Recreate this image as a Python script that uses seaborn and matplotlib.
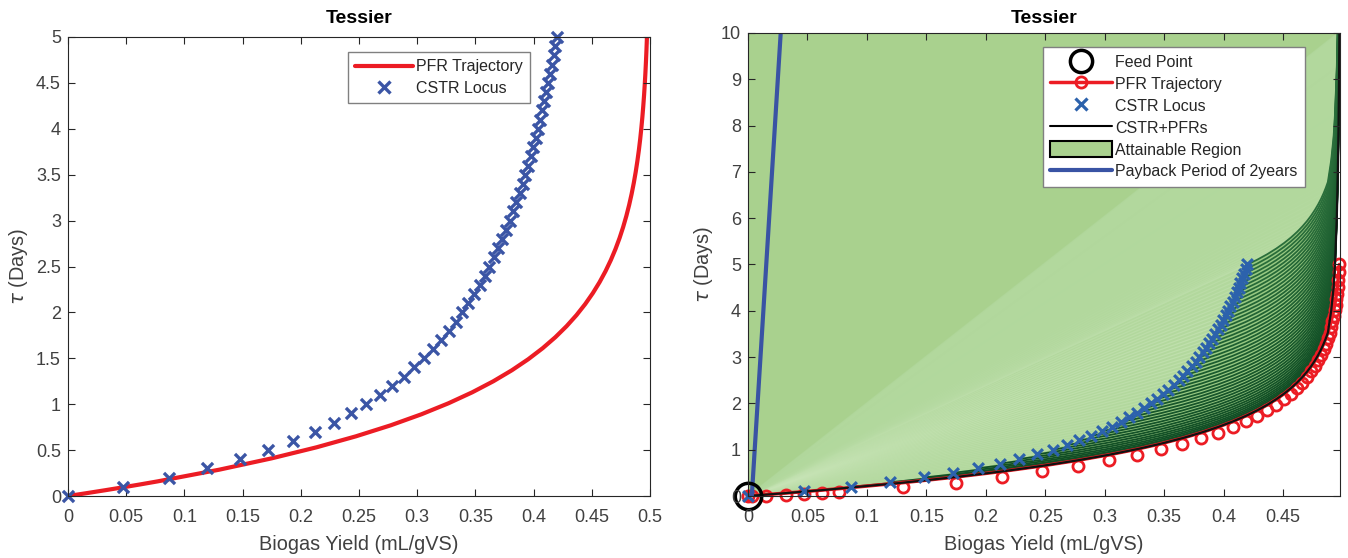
import numpy as np
import pandas as pd
import matplotlib
matplotlib.use('Agg')
import matplotlib.pyplot as plt
from matplotlib.lines import Line2D
from matplotlib.patches import Patch
from matplotlib.colors import LinearSegmentedColormap
import seaborn as sns

# CSTR locus (residence time in days, biogas yield mL/gVS)
cstr_tau = [0.0, 0.1, 0.2, 0.3, 0.4, 0.5, 0.6, 0.7, 0.8, 0.9,
            1.0, 1.1, 1.2, 1.3, 1.4, 1.5, 1.6, 1.7, 1.8, 1.9,
            2.0, 2.1, 2.2, 2.3, 2.4, 2.5, 2.6, 2.7, 2.8, 2.9,
            3.0, 3.1, 3.2, 3.3, 3.4, 3.5, 3.6, 3.7, 3.8, 3.9,
            4.0, 4.1, 4.2, 4.3, 4.4, 4.5, 4.6, 4.7, 4.8, 4.9, 5.0]
cstr_yield = [0.0, 0.0475, 0.0868, 0.1198, 0.1479, 0.1721, 0.1933, 0.2118, 0.2283, 0.2429,
              0.2561, 0.2680, 0.2788, 0.2886, 0.2976, 0.3058, 0.3134, 0.3205, 0.3270, 0.3331,
              0.3387, 0.3440, 0.3489, 0.3536, 0.3580, 0.3621, 0.3660, 0.3696, 0.3731, 0.3764,
              0.3795, 0.3825, 0.3853, 0.3880, 0.3906, 0.3930, 0.3954, 0.3976, 0.3998, 0.4019,
              0.4038, 0.4057, 0.4076, 0.4093, 0.4110, 0.4127, 0.4142, 0.4157, 0.4172, 0.4186, 0.4200]

# PFR trajectory (solver output points)
pfr_tau = [0.0, 0.006, 0.03, 0.063, 0.094, 0.126, 0.159, 0.287, 0.41, 0.53,
           0.65, 0.77, 0.89, 1.01, 1.13, 1.25, 1.37, 1.49, 1.61, 1.73,
           1.85, 1.97, 2.09, 2.21, 2.33, 2.45, 2.57, 2.69, 2.81, 2.93,
           3.05, 3.17, 3.29, 3.41, 3.53, 3.65, 3.77, 3.89, 4.01, 4.13,
           4.25, 4.37, 4.49, 4.61, 4.73, 4.85, 5.0]
pfr_yield = [0.0, 0.00314, 0.01551, 0.03200, 0.04699, 0.06196, 0.07688, 0.13008, 0.17491, 0.21340,
             0.24733, 0.27724, 0.30360, 0.32686, 0.34736, 0.36543, 0.38137, 0.39541, 0.40779, 0.41871,
             0.42833, 0.43682, 0.44430, 0.45089, 0.45671, 0.46183, 0.46635, 0.47034, 0.47385, 0.47694,
             0.47967, 0.48208, 0.48420, 0.48607, 0.48772, 0.48917, 0.49046, 0.49159, 0.49258, 0.49346,
             0.49423, 0.49492, 0.49552, 0.49605, 0.49652, 0.49693, 0.49738]

# PFR markers as they sit in the attainable-region panel
pfr_ar_tau = [0.0, 0.0, 0.01, 0.03, 0.05, 0.07, 0.09, 0.19, 0.29, 0.41,
              0.53, 0.65, 0.77, 0.89, 1.01, 1.13, 1.25, 1.37, 1.49, 1.61,
              1.73, 1.85, 1.97, 2.09, 2.21, 2.33, 2.45, 2.57, 2.69, 2.81,
              2.93, 3.05, 3.17, 3.29, 3.41, 3.53, 3.65, 3.77, 3.89, 4.01,
              4.13, 4.25, 4.37, 4.52, 4.67, 4.83, 5.0]

# CSTR+PFRs lower boundary (feed point -> right edge, up to 10 days)
bnd_yield = [0.0, 0.03200, 0.06196, 0.13008, 0.17491, 0.21340, 0.24733, 0.27724, 0.30360,
             0.32686, 0.34736, 0.36543, 0.38137, 0.39541, 0.40779, 0.41871, 0.42833, 0.43682,
             0.44430, 0.45089, 0.45671, 0.46183, 0.46635, 0.47034, 0.47385, 0.47694, 0.47967,
             0.48208, 0.48420, 0.48607, 0.48772, 0.4905, 0.4925, 0.4937, 0.4952, 0.4961,
             0.4967, 0.4971, 0.4974]
bnd_tau = [0.0, 0.063, 0.126, 0.287, 0.41, 0.53, 0.65, 0.77, 0.89,
           1.01, 1.13, 1.25, 1.37, 1.49, 1.61, 1.73, 1.85, 1.97,
           2.09, 2.21, 2.33, 2.45, 2.57, 2.69, 2.81, 2.93, 3.05,
           3.17, 3.29, 3.41, 3.53, 4.0, 4.5, 5.0, 6.0, 7.0,
           8.0, 9.0, 10.0]

feed_yield = [0.0]
feed_tau = [0.0]

payback_yield = [0.0032, 0.0275]
payback_tau = [0.0, 10.0]

red = '#ec1c24'
blue = '#3b55a5'
blue2 = '#2c62ac'
green = '#a9d18e'
txt = '#404040'

sns.set_theme(style='ticks')
plt.rcParams['font.family'] = ['Liberation Sans', 'DejaVu Sans']
plt.rcParams['mathtext.fontset'] = 'dejavusans'

fig = plt.figure(figsize=(13.48, 5.58), dpi=100)
ax1 = fig.add_axes([0.0504, 0.1111, 0.4318, 0.8226])
ax2 = fig.add_axes([0.5549, 0.1111, 0.4389, 0.8298])

df_pfr = pd.DataFrame({'yield': pfr_yield, 'tau': pfr_tau})
df_cstr = pd.DataFrame({'yield': cstr_yield, 'tau': cstr_tau})

# ---- left panel
sns.lineplot(data=df_pfr, x='yield', y='tau', ax=ax1, color=red, lw=3, sort=False, zorder=2)
sns.scatterplot(data=df_cstr, x='yield', y='tau', ax=ax1, marker='x', color=blue,
                s=64, linewidth=2.4, zorder=3, clip_on=False)
ax1.set_xlim(0, 0.5)
ax1.set_ylim(0, 5)
ax1.set_xticks([0, 0.05, 0.1, 0.15, 0.2, 0.25, 0.3, 0.35, 0.4, 0.45, 0.5])
ax1.set_xticklabels(['0', '0.05', '0.1', '0.15', '0.2', '0.25', '0.3', '0.35', '0.4', '0.45', '0.5'])
ax1.set_yticks([0, 0.5, 1, 1.5, 2, 2.5, 3, 3.5, 4, 4.5, 5])
ax1.set_yticklabels(['0', '0.5', '1', '1.5', '2', '2.5', '3', '3.5', '4', '4.5', '5'])
h1 = [Line2D([], [], color=red, lw=3),
      Line2D([], [], color=blue, marker='x', ls='none', ms=8, mew=2.4)]
leg1 = ax1.legend(h1, ['PFR Trajectory', 'CSTR Locus'], loc='upper left',
                  bbox_to_anchor=(0.481, 0.967), borderaxespad=0, fontsize=11.5,
                  handlelength=3.6, labelspacing=0.4, fancybox=False, framealpha=1,
                  edgecolor='#808080', borderpad=0.45, handletextpad=0.2)
leg1.get_frame().set_linewidth(1.0)

# ---- right panel
low_x = np.array(bnd_yield)
low_t = np.array(bnd_tau)


def cstr_pfr(x0, t0):
    # PFR fed by a CSTR: the lower boundary shifted up so that it starts at the CSTR point
    d = t0 - np.interp(x0, low_x, low_t)
    keep = low_x > x0
    xs = np.r_[x0, low_x[keep]]
    ts = np.r_[t0, low_t[keep] + d]
    return xs, ts


trajs = [cstr_pfr(x, t) for x, t in zip(cstr_yield, cstr_tau)]
last_x, last_t = trajs[-1]
inside = last_t <= 10
top_x = np.r_[last_x[inside], np.interp(10, last_t, last_x)]
top_t = np.r_[last_t[inside], 10.0]
outer_x = np.r_[cstr_yield, top_x[1:]]
outer_t = np.r_[cstr_tau, top_t[1:]]

# attainable region: everything above the lower boundary
ax2.fill(np.r_[low_x, 0], np.r_[low_t, 10], color=green, lw=0, zorder=1)
# mixing fan from the feed point
ax2.fill(np.r_[0, outer_x], np.r_[0, outer_t], color='#b2d89d', lw=0, zorder=1.1)
fan_cmap = LinearSegmentedColormap.from_list('fan', ['#b4d99f', '#c9e5b8', '#b0d79b'])
for i, (bx, bt) in enumerate(zip(outer_x, outer_t)):
    ax2.plot([0, bx], [0, bt], color=fan_cmap(i / (len(outer_x) - 1)), lw=0.9, alpha=0.6, zorder=1.2)
# CSTR followed by PFRs
ax2.fill(np.r_[outer_x, low_x[::-1]], np.r_[outer_t, low_t[::-1]],
         color='#98c982', lw=0, zorder=1.3)
traj_cmap = LinearSegmentedColormap.from_list('traj', ['#0f4a23', '#1b5c2e', '#2a6e3b'])
for i, (tx, tt) in enumerate(trajs):
    df_t = pd.DataFrame({'yield': tx, 'tau': tt})
    sns.lineplot(data=df_t, x='yield', y='tau', ax=ax2, sort=False, lw=1.3,
                 color=traj_cmap(i / (len(trajs) - 1)), zorder=1.4)

sns.lineplot(data=df_pfr, x='yield', y='tau', ax=ax2, sort=False, color=red, lw=2.5, zorder=2.0)
ax2.plot(pfr_yield, pfr_ar_tau, ls='none', color=red, marker='o', ms=8, mfc='none', mew=2,
         zorder=2.0, clip_on=False)
df_low = pd.DataFrame({'yield': low_x, 'tau': low_t})
sns.lineplot(data=df_low, x='yield', y='tau', ax=ax2, sort=False, color='#111111', lw=1.6, zorder=2.1)
sns.scatterplot(data=df_cstr, x='yield', y='tau', ax=ax2, marker='x', color=blue2,
                s=60, linewidth=2.3, zorder=2.2, clip_on=False)
df_pay = pd.DataFrame({'yield': payback_yield, 'tau': payback_tau})
sns.lineplot(data=df_pay, x='yield', y='tau', ax=ax2, sort=False, color='#3953a4', lw=3, zorder=2.3)
ax2.plot(feed_yield, feed_tau, ls='none', marker='o', ms=19, mfc='none', mec='black', mew=2.5,
         zorder=2.4, clip_on=False)

ax2.set_xlim(0, 0.4976)
ax2.set_ylim(0, 10)
ax2.set_xticks([0, 0.05, 0.1, 0.15, 0.2, 0.25, 0.3, 0.35, 0.4, 0.45])
ax2.set_xticklabels(['0', '0.05', '0.1', '0.15', '0.2', '0.25', '0.3', '0.35', '0.4', '0.45'])
ax2.set_yticks([0, 1, 2, 3, 4, 5, 6, 7, 8, 9, 10])
ax2.set_yticklabels(['0', '1', '2', '3', '4', '5', '6', '7', '8', '9', '10'])

h2 = [Line2D([], [], ls='none', marker='o', ms=16, mfc='none', mec='black', mew=2.5),
      Line2D([], [], color=red, lw=2.5, marker='o', ms=8, mfc='none', mew=2),
      Line2D([], [], ls='none', color=blue2, marker='x', ms=8, mew=2.3),
      Line2D([], [], color='black', lw=1.5),
      Patch(facecolor=green, edgecolor='black', lw=1.5),
      Line2D([], [], color='#3953a4', lw=3)]
l2 = ['Feed Point', 'PFR Trajectory', 'CSTR Locus', 'CSTR+PFRs', 'Attainable Region',
      'Payback Period of 2years']
leg2 = ax2.legend(h2, l2, loc='upper left', bbox_to_anchor=(0.498, 0.970), borderaxespad=0,
                  fontsize=11.5, handlelength=3.9, handleheight=1.1, labelspacing=0.36,
                  fancybox=False, framealpha=1, edgecolor='#808080', borderpad=0.45,
                  handletextpad=0.2)
leg2.get_frame().set_linewidth(1.0)
leg2.set_zorder(5)

for ax, tpad in ((ax1, 10), (ax2, 7)):
    ax.set_axisbelow(False)
    ax.tick_params(direction='in', top=True, right=True, length=5, width=0.8,
                   color='#262626', labelcolor=txt, labelsize=13)
    ax.tick_params(axis='x', pad=9)
    ax.tick_params(axis='y', pad=5)
    for sp in ax.spines.values():
        sp.set_color('#262626')
        sp.set_linewidth(0.8)
        sp.set_zorder(4)
    ax.set_xlabel('Biogas Yield (mL/gVS)', fontsize=14.3, color=txt, labelpad=7)
    ax.set_ylabel(r'$\tau$ (Days)', fontsize=14.3, color=txt, labelpad=4)
    ax.set_title('Tessier', fontsize=14, fontweight='bold', color='black', pad=tpad)

fig.savefig('out.png', dpi=100)
